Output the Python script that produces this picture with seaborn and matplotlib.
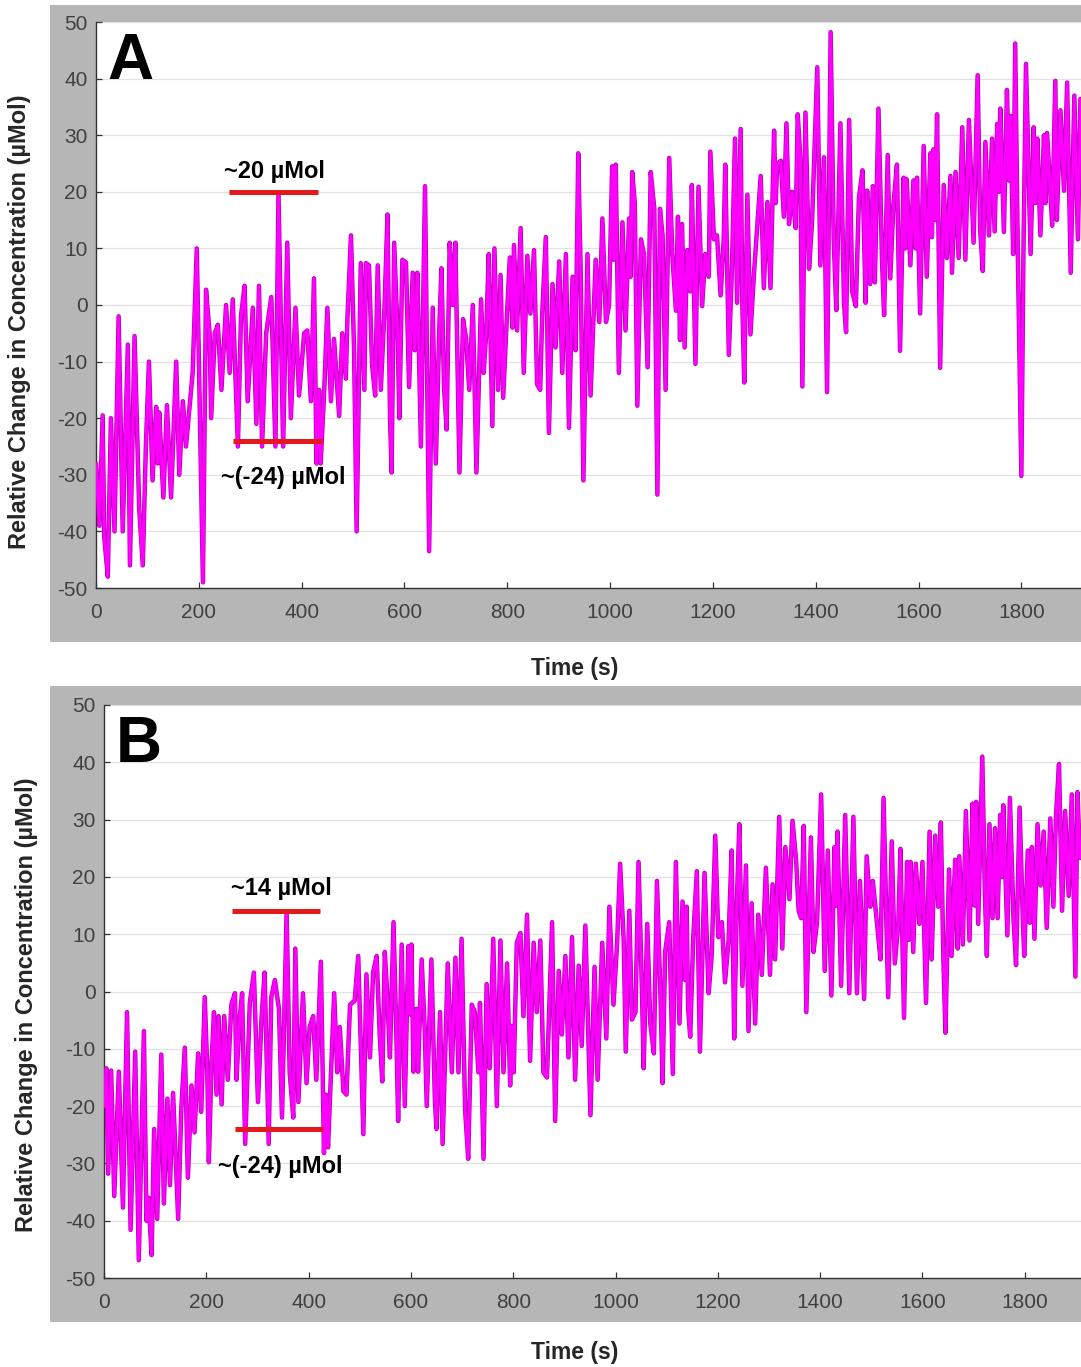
import matplotlib
matplotlib.use("Agg")
import matplotlib.pyplot as plt
from matplotlib.patches import Rectangle
import pandas as pd
import seaborn as sns

# ---- Panel A: relative concentration trace ----
time_a = [
    0, 6.5, 13, 16, 23, 29, 36, 44, 52, 62,
    66, 75, 84, 91, 97, 103, 110, 117, 120, 123,
    131, 138, 146, 156, 162, 169, 175, 182, 188, 196,
    201, 208, 214, 221, 224, 231, 237, 244, 253, 260,
    266, 276, 282, 289, 295, 305, 312, 317, 323, 331,
    341, 349, 355, 364, 372, 379, 388, 395, 405, 411,
    418, 424, 429, 434, 437, 444, 450, 457, 463, 473,
    479, 486, 489, 496, 502, 507, 515, 522, 525, 531,
    537, 543, 548, 554, 561, 567, 572, 575, 580, 587,
    590, 596, 603, 609, 616, 620, 625, 632, 640, 648,
    655, 661, 668, 672, 677, 682, 688, 694, 699, 707,
    714, 720, 726, 733, 740, 749, 754, 759, 764, 771,
    775, 782, 787, 792, 799, 805, 810, 813, 819, 826,
    832, 839, 845, 852, 858, 864, 868, 875, 881, 888,
    894, 901, 907, 914, 920, 927, 933, 938, 943, 948,
    956, 962, 972, 979, 985, 992, 998, 1004, 1007, 1011,
    1017, 1024, 1030, 1037, 1040, 1043, 1048, 1053, 1060, 1066,
    1073, 1079, 1086, 1092, 1097, 1102, 1108, 1115, 1121, 1128,
    1132, 1136, 1140, 1145, 1150, 1156, 1159, 1166, 1172, 1179,
    1185, 1192, 1195, 1202, 1208, 1215, 1221, 1224, 1231, 1237,
    1243, 1247, 1254, 1257, 1261, 1267, 1273, 1280, 1286, 1293,
    1299, 1306, 1312, 1319, 1322, 1325, 1332, 1338, 1343, 1348,
    1354, 1361, 1365, 1370, 1374, 1380, 1387, 1393, 1403, 1409,
    1416, 1422, 1429, 1435, 1440, 1448, 1455, 1459, 1465, 1471,
    1478, 1484, 1491, 1497, 1500, 1506, 1511, 1515, 1522, 1529,
    1533, 1540, 1545, 1551, 1558, 1564, 1571, 1574, 1577, 1584,
    1590, 1594, 1597, 1603, 1610, 1616, 1623, 1626, 1629, 1632,
    1636, 1642, 1649, 1655, 1662, 1665, 1672, 1678, 1685, 1691,
    1698, 1707, 1715, 1720, 1725, 1730, 1737, 1743, 1748, 1753,
    1756, 1759, 1766, 1772, 1776, 1779, 1784, 1788, 1793, 1800,
    1804, 1809, 1818, 1824, 1827, 1831, 1837, 1844, 1847, 1850,
    1860, 1866, 1869, 1876, 1883, 1889, 1896, 1903, 1910, 1915,
]
conc_a = [
    -28, -39, -19.5, -41, -48, -20, -40, -2, -40, -7,
    -46, -5.5, -36, -46, -25, -10, -31, -18, -28, -19,
    -34, -17.7, -34, -10, -30, -17, -25, -18, -12, 10,
    -14, -49, 2.7, -5, -20, -5, -3.5, -15, 0, -12,
    1, -25, -2, 3.4, -17, -0.5, -21, 3.4, -25, -5,
    1.4, -25, 19.7, -25, 11, -20, -0.5, -16, -5, -4.5,
    -17, 4.7, -28, -15, -28, -15, -0.5, -17, -6, -19.6,
    -5, -13, -2.5, 12.3, -8, -40, 7.4, -15, 7.4, 7,
    -10.5, -16, 7, -15, -1, 16, -20, -29.6, 11, -6,
    -20, 8, 7.5, -14.5, 5.7, -8, 5.7, -25, 21, -43.5,
    -0.5, -28, -3.5, 6.5, -14.5, -22, 11, 0, 11, -29.6,
    -2.5, -6, -15, 0, -29.6, 1, -12, -5, 9, -21.4,
    10, -15, 5.3, -16.4, -2.5, 8.4, -4, 10.6, -4.5, 13.6,
    -12, 8.7, -1.5, 9.7, -14, -15, -1.5, 12, -22.6, 3.7,
    -7.5, 7.7, -12, 9, -21.7, 5, -8, 26.8, 5, -31,
    9, -16, 8, -3, 15.3, -3, 0, 24.5, 8, 24.8,
    -12, 14.6, -4.5, 15.3, 5, 23.5, 18, -17.8, 11.6, 9,
    -11, 23.5, 17, -33.5, 17, 12.3, -15, 26, 9, -1,
    15.6, -6.2, 14.3, -7.5, 9.7, 2.4, 21.2, -10.4, 20.9, -0.2,
    9, 5, 27.1, 11.6, 12.3, 1.7, 11.6, 24.8, -8.8, 6.4,
    29.4, 0.4, 31.1, 1.1, -13.7, 19.5, -5.2, 5.7, 13.6, 22.8,
    3, 18.2, 3, 30.8, 18, 24.8, 25.5, 15.6, 32.1, 14.3,
    20, 13.6, 33.7, 26.1, -14.4, 34, 6.4, 14.9, 42, 7,
    26.1, -15.4, 48.2, 11.6, -0.9, 32.1, 0.4, -4.8, 32.7, 2.4,
    -0.2, 18.9, 23.8, 0.4, 20.2, 3.7, 21, 4, 34.7, 7.7,
    -1.8, 26.5, 4.7, 17.6, 24.8, -8.1, 22.5, 10, 22.2, 7,
    22, 10, 22.5, -1.5, 28.1, 5, 26.8, 12, 27.5, 15,
    33.7, -11.1, 21.2, 8.3, 22.8, 5.7, 23.5, 8.3, 31.4, 8,
    32.7, 11, 40.6, 13, 6, 28.8, 12.3, 29.4, 13, 32,
    20, 34.7, 12.9, 38, 22, 33.4, 9, 46.2, 9.7, -30.2,
    9, 42.6, 9, 31.4, 18, 29.4, 12.3, 30, 18, 30.4,
    14, 39.6, 15, 34.4, 20.2, 39.3, 5.7, 37, 11.6, 36.4,
]

# ---- Panel B: relative concentration trace ----
time_b = [
    0, 4.6, 8, 14, 20, 29, 37, 45, 52, 61,
    68, 78, 83, 87, 93, 98, 104, 112, 117, 124,
    129, 135, 145, 151, 158, 164, 171, 177, 184, 190,
    197, 202, 205, 210, 215, 220, 224, 230, 235, 242,
    249, 256, 259, 265, 270, 276, 285, 293, 301, 308,
    314, 322, 327, 334, 342, 348, 357, 363, 370, 374,
    380, 389, 396, 402, 409, 415, 424, 430, 434, 438,
    445, 450, 456, 461, 468, 474, 481, 490, 497, 503,
    507, 513, 520, 526, 533, 539, 544, 549, 554, 559,
    566, 572, 575, 582, 588, 595, 598, 601, 605, 611,
    614, 621, 627, 631, 640, 647, 650, 657, 662, 672,
    680, 687, 693, 699, 706, 712, 719, 725, 732, 735,
    742, 748, 754, 761, 768, 775, 781, 788, 794, 797,
    801, 807, 814, 820, 827, 833, 840, 846, 853, 859,
    866, 876, 882, 889, 895, 902, 908, 915, 921, 928,
    934, 941, 951, 959, 965, 974, 982, 988, 996, 1003,
    1009, 1016, 1020, 1027, 1032, 1039, 1045, 1052, 1055, 1062,
    1068, 1075, 1081, 1088, 1092, 1097, 1105, 1112, 1118, 1125,
    1131, 1136, 1139, 1142, 1146, 1152, 1159, 1165, 1174, 1182,
    1188, 1195, 1201, 1208, 1214, 1221, 1227, 1232, 1237, 1242,
    1248, 1255, 1260, 1266, 1273, 1279, 1286, 1294, 1302, 1307,
    1312, 1320, 1326, 1332, 1340, 1346, 1353, 1358, 1363, 1368,
    1373, 1382, 1387, 1394, 1402, 1409, 1415, 1422, 1428, 1431,
    1434, 1441, 1449, 1457, 1465, 1472, 1478, 1486, 1491, 1498,
    1503, 1511, 1518, 1524, 1533, 1540, 1546, 1553, 1557, 1564,
    1570, 1573, 1577, 1582, 1587, 1594, 1600, 1607, 1614, 1618,
    1625, 1631, 1636, 1641, 1645, 1652, 1657, 1664, 1669, 1672,
    1679, 1685, 1692, 1698, 1702, 1705, 1709, 1717, 1722, 1726,
    1731, 1737, 1742, 1747, 1752, 1755, 1758, 1766, 1771, 1778,
    1783, 1790, 1796, 1799, 1806, 1810, 1814, 1819, 1825, 1831,
    1837, 1843, 1850, 1856, 1861, 1867, 1873, 1879, 1886, 1892,
    1899, 1903, 1908,
]
conc_b = [
    -20, -13.4, -31.8, -13.8, -35.7, -14, -37.7, -3.6, -41.6, -10.5,
    -46.9, -6.9, -40, -36, -46, -24, -39.7, -11, -37, -18.7,
    -33.8, -17.7, -39.7, -20.7, -9.8, -32.5, -16.4, -24.6, -10.8, -21,
    -1, -14, -29.8, -13, -3.6, -18, -4.3, -19.7, -4.3, -15.4,
    -2.3, -0.3, -15.4, -4.9, -0.3, -26.6, -2, 3.3, -19.3, -4.6,
    3.3, -26.6, -1, 2, -3, -22, 13.8, -14.1, -22, 7.5,
    -19.3, -0.3, -16, -6.2, -4.3, -15.4, 5.2, -28.2, -18, -27.2,
    -11.5, -0.3, -14.1, -6.2, -17.4, -18, -2.3, -1.6, 6.2, -12.8,
    -24.9, 3, -11.5, 3.3, 6.2, -7.5, -15.7, 6.9, -1, -11.5,
    12.1, -9.2, -22.6, 8.2, -20, 7.9, -4, 8.2, -14, -3,
    -14, 5.6, -6.6, -20, 5.6, -19.3, -24, -3.6, -26.6, 4.9,
    -14.1, 5.9, -14.1, 9.2, -20.7, -29.2, -2.3, -3.6, -14.1, -2,
    -29.2, 1.3, -13.4, 9.2, -20, 8.9, -14.1, 4.9, -16.4, -6,
    -14.1, 8.5, 10.2, -4.3, 13.4, -12.1, 8.5, -3.6, 8.9, -14.1,
    -15, 12.1, -22.6, 3.6, -7.5, 6.2, -11.5, 9.5, -15.4, 4.5,
    -9.5, 11.5, -21.6, 4.3, -15.4, 8.5, -8.2, 14.8, -2.3, 8.2,
    22.3, 8.9, -10.5, 14.1, -4.9, -3.6, 22.6, -1, -13.4, 11.8,
    -5.6, -10.8, 19.3, -1, -16, 6.9, 12.1, -14.4, 22.6, -5.6,
    15.7, 2, 14.8, -3, -7.9, 9.5, 21, -10.5, 20.7, -0.3,
    6.2, 27.2, 9.5, 12.1, 1.6, 8.9, 24.6, -8.2, 14.8, 29.2,
    1, 22, -6.9, 15.4, -5.6, 13.4, 2.9, 21.6, 2.9, 18.7,
    5.6, 30.5, 7.5, 25.2, 16.1, 29.8, 23, 14.1, 12.8, 28.9,
    -3.6, 26.9, 6.9, 12.1, 34.4, 3.6, 24.6, -0.7, 25.2, 15,
    27.9, 1, 30.8, -0.3, 30.5, -0.3, 19.3, -1.3, 23.6, 14.8,
    19.3, 12.1, 5.6, 33.8, -1, 26.2, 4.9, 12.1, 24.9, -4.6,
    22.6, 9, 22.6, 6.9, 22.3, 11.8, 22.6, -2, 27.9, 5.6,
    27.2, 14.8, 29.5, 5.6, -7.2, 21.3, 6.2, 23, 7.5, 23.6,
    8.2, 31.5, 8.9, 32.8, 15, 33.1, 11.8, 41, 17.4, 6.2,
    29.2, 12.8, 28.5, 12.8, 30.8, 20, 32.5, 9.8, 33.8, 12.8,
    4.6, 32.1, 13.4, 6.2, 24.6, 12, 25.2, 9.2, 29.2, 18.5,
    27.9, 11.1, 30.2, 14.8, 30.5, 39.7, 14.1, 31.5, 16.7, 34.4,
    2.6, 34.8, 23.3,
]

# Marked peak / trough levels (µMol)
peak_a, trough_a = 20, -24
peak_b, trough_b = 14, -24

x_ticks = list(range(0, 1801, 200))
y_ticks = list(range(-50, 51, 10))

sns.set_theme(style="white")
plt.rcParams["font.family"] = ["Liberation Sans", "DejaVu Sans"]
plt.rcParams["axes.unicode_minus"] = False

W, H = 1081, 1367
fig = plt.figure(figsize=(W / 100, H / 100), dpi=100, facecolor="white")

PANEL_GREY = "#b6b6b6"
TICK_GREY = "#404040"
LINE_DARK = "#b000b0"
LINE_MAGENTA = "#ff00ff"
MARK_RED = "#e3191c"


def px_box(x0, y0, x1, y1):
    """Convert a pixel box (top-left origin) to figure fractions."""
    return [x0 / W, 1 - y1 / H, (x1 - x0) / W, (y1 - y0) / H]


def draw_panel(grey_box, ax_box, xmax, t, c, letter,
               peak, peak_span, peak_label_xy,
               trough, trough_span, trough_label_xy):
    gx, gy, gw, gh = px_box(*grey_box)
    fig.add_artist(Rectangle((gx, gy), gw, gh, transform=fig.transFigure,
                             facecolor=PANEL_GREY, edgecolor="none", zorder=-5))
    ax = fig.add_axes(px_box(*ax_box))
    ax.set_facecolor("white")

    df = pd.DataFrame({"time": t, "conc": c})
    sns.lineplot(data=df, x="time", y="conc", ax=ax, color=LINE_DARK,
                 linewidth=3.2, estimator=None, sort=False, zorder=3)
    sns.lineplot(data=df, x="time", y="conc", ax=ax, color=LINE_MAGENTA,
                 linewidth=2.2, estimator=None, sort=False, zorder=4)

    ax.set_xlim(0, xmax)
    ax.set_ylim(-50, 50)
    ax.set_xticks(x_ticks)
    ax.set_yticks(y_ticks)
    ax.set_xlabel("")
    ax.set_ylabel("")
    ax.grid(axis="y", color="#e2e2e2", linewidth=0.9, zorder=0)
    ax.grid(axis="x", visible=False)
    ax.set_axisbelow(True)
    for side in ("top", "right"):
        ax.spines[side].set_visible(False)
    for side in ("left", "bottom"):
        ax.spines[side].set_color("#333333")
        ax.spines[side].set_linewidth(1.0)
    ax.tick_params(axis="both", direction="in", length=4, width=0.9,
                   color="#333333", labelcolor=TICK_GREY, labelsize=15)
    ax.tick_params(axis="x", pad=11, bottom=True)
    ax.tick_params(axis="y", pad=6, left=True)

    # panel letter
    ax.text(23, 40, letter, fontsize=46, fontweight="bold", color="black",
            ha="left", va="baseline", zorder=6)

    # red markers with their level labels
    ax.hlines(peak, *peak_span, color=MARK_RED, linewidth=3.6, zorder=5)
    ax.hlines(trough, *trough_span, color=MARK_RED, linewidth=3.6, zorder=5)
    ax.text(*peak_label_xy, f"~{peak} µMol", fontsize=17, fontweight="bold",
            color="black", ha="center", va="center", zorder=6)
    ax.text(*trough_label_xy, f"~({trough}) µMol", fontsize=17,
            fontweight="bold", color="black", ha="center", va="center",
            zorder=6)
    return ax


draw_panel((50, 5, 1090, 642), (96, 22, 1081, 588), 1916,
           time_a, conc_a, "A",
           peak_a, (259, 432), (348, 23.5),
           trough_a, (266, 440), (364, -30.4))

draw_panel((50, 686, 1090, 1322), (104, 705, 1081, 1278), 1910,
           time_b, conc_b, "B",
           peak_b, (250, 422), (346, 17.9),
           trough_b, (256, 428), (344, -30.6))

ylab = "Relative Change in Concentration (µMol)"
fig.text(20 / W, 1 - 322 / H, ylab, rotation=90, fontsize=17,
         fontweight="bold", ha="center", va="center")
fig.text(27 / W, 1 - 1005 / H, ylab, rotation=90, fontsize=17,
         fontweight="bold", ha="center", va="center")
fig.text(575 / W, 1 - 668 / H, "Time (s)", fontsize=16.5, fontweight="bold",
         ha="center", va="center")
fig.text(575 / W, 1 - 1352 / H, "Time (s)", fontsize=16.5, fontweight="bold",
         ha="center", va="center")

fig.savefig("out.png", dpi=100, facecolor="white")
